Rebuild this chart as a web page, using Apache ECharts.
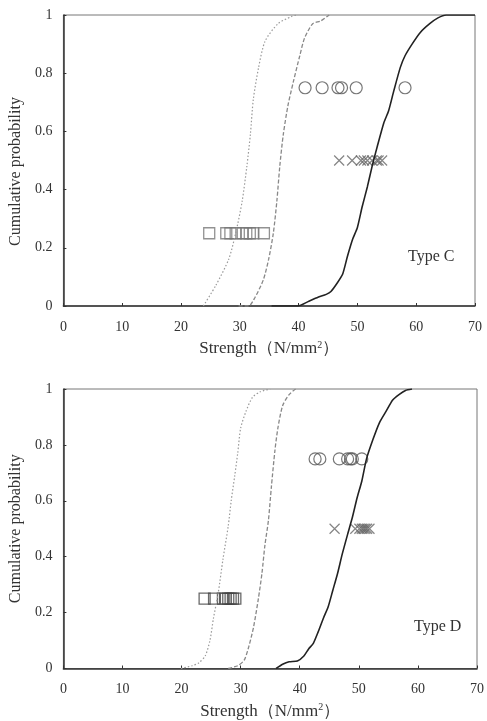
<!DOCTYPE html>
<html>
<head>
<meta charset="utf-8">
<script src="https://cdn.jsdelivr.net/npm/echarts@6/dist/echarts.min.js"></script>
<style>
  html, body { margin: 0; padding: 0; background: #fff; }
  #chart { width: 487px; height: 721px; }
</style>
</head>
<body>
<div id="chart"></div>
<script>
// Type C curves [strength, cumulative probability]
const cDotted = [[23.8, 0], [25.9, 0.07], [28.1, 0.16], [29.3, 0.25], [30.4, 0.36], [31.2, 0.48], [31.8, 0.59], [32.3, 0.71], [33.2, 0.82], [34.3, 0.91], [36.5, 0.97], [38.8, 0.995], [39.6, 1]]
const cDashed = [[29.8, 0], [31.5, 0], [32.6, 0.03], [34.0, 0.09], [34.9, 0.16], [35.7, 0.25], [36.3, 0.36], [36.8, 0.48], [37.4, 0.59], [38.2, 0.69], [39.1, 0.77], [40.2, 0.86], [41.0, 0.92], [42.4, 0.97], [43.8, 0.98], [45.2, 1]]
const cSolid = [[35.4, 0], [39.9, 0], [41.6, 0.015], [43.3, 0.03], [44.7, 0.04], [45.5, 0.05], [46.6, 0.08], [47.5, 0.11], [48.3, 0.17], [49.2, 0.23], [50.0, 0.27], [50.8, 0.34], [51.7, 0.41], [52.5, 0.48], [53.4, 0.55], [54.5, 0.63], [55.3, 0.67], [56.2, 0.74], [57.3, 0.82], [58.1, 0.86], [59.3, 0.90], [60.7, 0.94], [62.3, 0.97], [63.7, 0.99], [65.1, 1], [70, 1]]
// Type C test results
const cSquares = [24.8, 27.7, 28.4, 29.3, 30.5, 31.1, 31.7, 32.3, 34.1]
const cCrosses = [46.9, 49.1, 50.6, 51.1, 51.7, 52.5, 53.3, 53.6, 54.2]
const cCircles = [41.1, 44.0, 46.7, 47.3, 49.8, 58.1]

// Type D curves
const dDotted = [[19.9, 0], [21.8, 0.01], [22.9, 0.02], [24.0, 0.045], [24.8, 0.10], [25.4, 0.18], [26.2, 0.27], [27.0, 0.39], [27.9, 0.51], [28.4, 0.60], [29.0, 0.69], [29.5, 0.77], [30.0, 0.86], [30.9, 0.92], [32.0, 0.97], [33.3, 0.99], [35.0, 1]]
const dDashed = [[27.9, 0], [29.5, 0.01], [30.6, 0.03], [31.4, 0.08], [32.2, 0.15], [33.0, 0.25], [33.6, 0.34], [34.1, 0.44], [34.7, 0.53], [35.2, 0.65], [35.8, 0.78], [36.3, 0.86], [37.1, 0.94], [38.2, 0.98], [39.3, 1]]
const dSolid = [[36.0, 0], [37.1, 0.015], [38.2, 0.024], [39.6, 0.027], [40.7, 0.045], [41.5, 0.07], [42.3, 0.09], [43.1, 0.13], [44.0, 0.18], [44.8, 0.22], [45.6, 0.28], [46.4, 0.34], [47.2, 0.41], [48.1, 0.48], [48.9, 0.54], [49.7, 0.61], [50.5, 0.67], [51.3, 0.75], [52.4, 0.82], [53.5, 0.88], [54.6, 0.92], [55.7, 0.96], [56.8, 0.98], [57.9, 0.995], [59.0, 1]]
// Type D test results
const dSquares = [23.9, 25.5, 27.0, 27.5, 27.9, 28.3, 28.7, 29.1]
const dCrosses = [45.9, 49.4, 50.1, 50.5, 50.8, 51.1, 51.4, 51.8]
const dCircles = [42.6, 43.4, 46.7, 48.1, 48.6, 48.9, 50.5]

const squareLevel = 0.25
const crossLevel = 0.5
const circleLevel = 0.75

const xTicks = { min: 0, max: 70, interval: 10 }
const yTicks = { min: 0, max: 1, interval: 0.2 }

const serif = "'Liberation Serif', 'DejaVu Serif', serif"
const crossPath = 'path://M0,0L10,10M10,0L0,10'

const chart = echarts.init(document.getElementById('chart'))

function xAxisFor(gridIndex) {
  return {
    gridIndex,
    type: 'value',
    ...xTicks,
    name: 'Strength（N/mm{sup|2}）',
    nameLocation: 'middle',
    nameGap: 34,
    nameTextStyle: {
      fontFamily: serif, fontSize: 17, color: '#333',
      rich: { sup: { fontFamily: serif, fontSize: 10, color: '#333', verticalAlign: 'top', padding: [0, 0, 8, 0] } }
    },
    axisLine: { lineStyle: { color: '#333', width: 1.5 } },
    axisTick: { inside: true, length: 3, lineStyle: { color: '#333' } },
    axisLabel: { fontFamily: serif, fontSize: 14, color: '#333', margin: 14 },
    splitLine: { show: false }
  }
}

function yAxisFor(gridIndex, nameGap, pad) {
  return {
    gridIndex,
    type: 'value',
    ...yTicks,
    name: 'Cumulative probability',
    nameLocation: 'middle',
    nameGap,
    nameTextStyle: { fontFamily: serif, fontSize: 16, color: '#333', padding: pad },
    axisLine: { lineStyle: { color: '#333', width: 1.5 } },
    axisTick: { inside: true, length: 3, lineStyle: { color: '#333' } },
    axisLabel: {
      fontFamily: serif, fontSize: 14, color: '#333', margin: 11,
      formatter: v => (v === 0 || v === 1) ? String(v) : v.toFixed(1)
    },
    splitLine: { show: false }
  }
}

function curves(idx, dotted, dashed, solid) {
  return [
    { type: 'line', xAxisIndex: idx, yAxisIndex: idx, data: dotted, showSymbol: false, silent: true, smooth: 0.25,
      lineStyle: { color: '#9a9a9a', width: 1.2, type: [1.5, 2] } },
    { type: 'line', xAxisIndex: idx, yAxisIndex: idx, data: dashed, showSymbol: false, silent: true, smooth: 0.25,
      lineStyle: { color: '#888', width: 1.3, type: [4, 2] } },
    { type: 'line', xAxisIndex: idx, yAxisIndex: idx, data: solid, showSymbol: false, silent: true, smooth: 0.2,
      lineStyle: { color: '#222', width: 1.6 } }
  ]
}

function marks(idx, squares, crosses, circles, sqColor) {
  return [
    { type: 'scatter', xAxisIndex: idx, yAxisIndex: idx, symbol: 'rect', symbolSize: 11,
      data: squares.map(x => [x, squareLevel]),
      itemStyle: { color: 'transparent', borderColor: sqColor, borderWidth: 1.3 } },
    { type: 'scatter', xAxisIndex: idx, yAxisIndex: idx, symbol: crossPath, symbolSize: 10,
      data: crosses.map(x => [x, crossLevel]),
      itemStyle: { color: 'transparent', borderColor: '#666', borderWidth: 1.2 } },
    { type: 'scatter', xAxisIndex: idx, yAxisIndex: idx, symbol: 'circle', symbolSize: 12,
      data: circles.map(x => [x, circleLevel]),
      itemStyle: { color: 'transparent', borderColor: '#555', borderWidth: 1.2 } }
  ]
}

chart.setOption({
  animation: false,
  backgroundColor: '#fff',
  grid: [
    { left: 59, top: 15, width: 416, height: 291, show: true, borderColor: '#777', borderWidth: 1 },
    { left: 53, top: 389, width: 428, height: 280, show: true, borderColor: '#777', borderWidth: 1 }
  ],
  xAxis: [xAxisFor(0), xAxisFor(1)],
  yAxis: [yAxisFor(0, 39, [0, 22, 0, 0]), yAxisFor(1, 35, 0)],
  graphic: [
    { type: 'text', left: 408, top: 249, style: { text: 'Type C', font: "16px 'Liberation Serif'", fill: '#333' } },
    { type: 'text', left: 414, top: 619, style: { text: 'Type D', font: "16px 'Liberation Serif'", fill: '#333' } }
  ],
  series: [
    ...curves(0, cDotted, cDashed, cSolid),
    ...marks(0, cSquares, cCrosses, cCircles, '#777'),
    ...curves(1, dDotted, dDashed, dSolid),
    ...marks(1, dSquares, dCrosses, dCircles, '#444')
  ]
})
</script>
</body>
</html>
